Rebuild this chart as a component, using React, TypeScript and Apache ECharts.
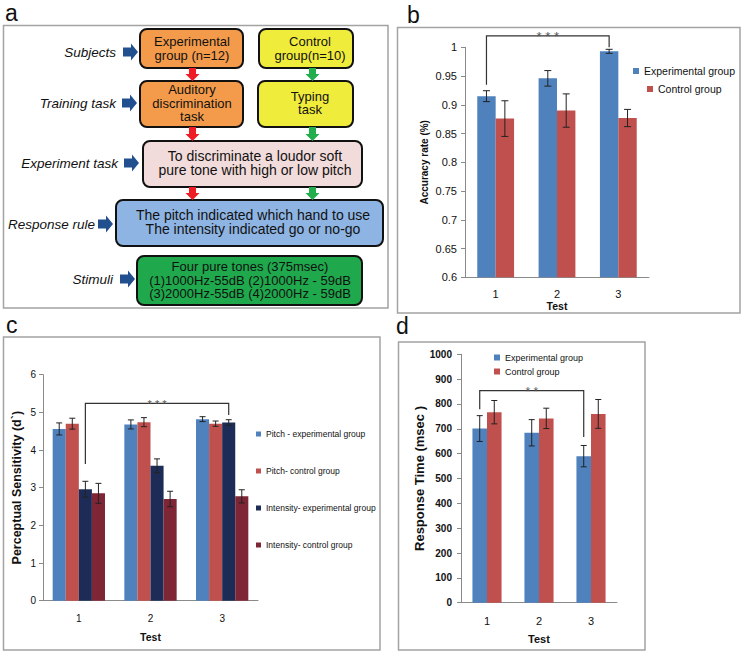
import React, { useEffect, useRef } from "react";
import * as echarts from "echarts";

// ---------- data ----------
const tests = ["1", "2", "3"];

// Panel b: accuracy rate
const accExp = [0.915, 0.946, 0.993];
const accExpErr = [0.0095, 0.0135, 0.0035];
const accCtrl = [0.876, 0.89, 0.877];
const accCtrlErr = [0.031, 0.029, 0.015];

// Panel c: perceptual sensitivity (d')
const pitchExp = [4.56, 4.68, 4.82];
const pitchExpErr = [0.16, 0.12, 0.065];
const pitchCtrl = [4.7, 4.74, 4.7];
const pitchCtrlErr = [0.145, 0.12, 0.07];
const intExp = [2.96, 3.58, 4.73];
const intExpErr = [0.21, 0.185, 0.075];
const intCtrl = [2.85, 2.7, 2.77];
const intCtrlErr = [0.265, 0.205, 0.175];

// Panel d: response time
const rtExp = [701, 684, 590];
const rtExpErr = [52, 53, 43];
const rtCtrl = [767, 742, 760];
const rtCtrlErr = [47, 41, 58];

// significance brackets: [leftCat, rightCat, yLeft, yTop, yRight]
const bracketB = [0, 2, 0.935, 1.02, 1.0];
const bracketC = [0, 2, 3.63, 5.24, 4.93];
const bracketD = [0, 2, 779, 854, 667];

const legendB = ["Experimental group", "Control group"];
const legendC = [
  "Pitch - experimental group",
  "Pitch- control group",
  "Intensity- experimental group",
  "Intensity- control group",
];

// ---------- styles ----------
const BLUE = "#4f81bd";
const RED = "#c0504d";
const NAVY = "#1d2c57";
const MAROON = "#7e2536";
const FONT = "'Liberation Sans', Arial, sans-serif";

function barSeries(name: string, data: number[], color: string, ai: number, gap: string) {
  return {
    type: "bar",
    name,
    data,
    xAxisIndex: ai,
    yAxisIndex: ai,
    barGap: "0%",
    barCategoryGap: gap,
    itemStyle: { color },
  };
}

function errSeries(values: number[], errs: number[], k: number, n: number, gap: number, ai: number, cap: number) {
  return {
    type: "custom",
    xAxisIndex: ai,
    yAxisIndex: ai,
    z: 5,
    silent: true,
    data: values.map((v, i) => [i, v - errs[i], v + errs[i]]),
    encode: { x: 0, y: [1, 2] },
    renderItem: (params: any, api: any) => {
      const i = api.value(0);
      const lo = api.coord([i, api.value(1)]);
      const hi = api.coord([i, api.value(2)]);
      const band = Math.abs(api.coord([1, api.value(1)])[0] - api.coord([0, api.value(1)])[0]);
      const gw = band * (1 - gap);
      const cx = lo[0] - gw / 2 + (gw / n) * (k + 0.5);
      const st = { stroke: "#222", lineWidth: 1 };
      return {
        type: "group",
        children: [
          { type: "line", shape: { x1: cx, y1: lo[1], x2: cx, y2: hi[1] }, style: st },
          { type: "line", shape: { x1: cx - cap, y1: lo[1], x2: cx + cap, y2: lo[1] }, style: st },
          { type: "line", shape: { x1: cx - cap, y1: hi[1], x2: cx + cap, y2: hi[1] }, style: st },
        ],
      };
    },
  };
}

function bracketSeries(b: number[], k: number, n: number, gap: number, ai: number, label: string, fs: number) {
  return {
    type: "custom",
    xAxisIndex: ai,
    yAxisIndex: ai,
    z: 6,
    silent: true,
    clip: false,
    data: [b],
    encode: { x: [0, 1], y: [2, 3, 4] },
    renderItem: (params: any, api: any) => {
      const pL = api.coord([api.value(0), api.value(2)]);
      const pT = api.coord([api.value(0), api.value(3)]);
      const pR = api.coord([api.value(1), api.value(4)]);
      const band = Math.abs(api.coord([1, api.value(2)])[0] - api.coord([0, api.value(2)])[0]);
      const gw = band * (1 - gap);
      const off = -gw / 2 + (gw / n) * (k + 0.5);
      const xl = pL[0] + off;
      const xr = pR[0] + off;
      return {
        type: "group",
        children: [
          {
            type: "polyline",
            shape: { points: [[xl, pL[1]], [xl, pT[1]], [xr, pT[1]], [xr, pR[1]]] },
            style: { stroke: "#333", lineWidth: 1.2, fill: "none" },
          },
          {
            type: "text",
            x: (xl + xr) / 2,
            y: pT[1] + 1,
            style: { text: label, align: "center", verticalAlign: "middle", fontSize: fs, fill: "#555", fontFamily: FONT },
          },
        ],
      };
    },
  };
}

// ---------- panel a (flowchart) ----------
function box(x: number, y: number, w: number, h: number, fill: string) {
  return { type: "rect", shape: { x, y, width: w, height: h, r: 7 }, style: { fill, stroke: "#111", lineWidth: 2 } };
}
function label(x: number, y: number, text: string, size: number, opts: any = {}) {
  return {
    type: "text",
    x,
    y,
    style: {
      text,
      align: opts.align || "center",
      verticalAlign: "middle",
      fontSize: size,
      fontFamily: FONT,
      fontStyle: opts.italic ? "italic" : "normal",
      lineHeight: opts.lh || size,
      fill: "#111",
    },
  };
}
function downArrow(cx: number, y0: number, y1: number, color: string) {
  return {
    type: "polygon",
    shape: {
      points: [
        [cx - 3.5, y0], [cx + 3.5, y0], [cx + 3.5, y1 - 7], [cx + 7, y1 - 7],
        [cx, y1], [cx - 7, y1 - 7], [cx - 3.5, y1 - 7],
      ],
    },
    style: { fill: color },
  };
}
function rightArrow(x0: number, cy: number) {
  const x1 = x0 + 15;
  return {
    type: "polygon",
    shape: {
      points: [
        [x0, cy - 4.5], [x1 - 7, cy - 4.5], [x1 - 7, cy - 8.5], [x1, cy],
        [x1 - 7, cy + 8.5], [x1 - 7, cy + 4.5], [x0, cy + 4.5],
      ],
    },
    style: { fill: "#22508f" },
  };
}
function frame(x: number, y: number, w: number, h: number) {
  return { type: "rect", shape: { x, y, width: w, height: h }, style: { fill: "none", stroke: "#a3a3a3", lineWidth: 1.5 } };
}
function panelLetter(x: number, y: number, t: string) {
  return { type: "text", x, y, style: { text: t, fontSize: 23, fontFamily: FONT, fill: "#111", verticalAlign: "top" } };
}

const flow: any[] = [
  frame(3.5, 25.5, 384.5, 282.5),
  frame(397.5, 27.5, 342.5, 285.5),
  frame(3.5, 337, 376.5, 313),
  frame(398.5, 342, 246.5, 308),
  panelLetter(5, 1, "a"),
  panelLetter(407, 3, "b"),
  panelLetter(6, 313, "c"),
  panelLetter(396, 314, "d"),
  box(140, 29, 103, 39, "#f39b4b"),
  box(259, 29, 94, 39, "#f0ec3c"),
  box(140, 81, 103, 46, "#f39b4b"),
  box(258, 81, 95, 46, "#f0ec3c"),
  box(143, 141, 219, 46, "#f2dcdb"),
  box(116, 200, 267, 46, "#8eb4e3"),
  box(137, 256, 225, 49, "#1fa84c"),
  label(192, 48.5, "Experimental\ngroup (n=12)", 13, { lh: 13.5 }),
  label(310, 48.5, "Control\ngroup(n=10)", 13, { lh: 13.5 }),
  label(192, 103, "Auditory\ndiscrimination\ntask", 13, { lh: 13.5 }),
  label(310, 103, "Typing\ntask", 13, { lh: 13.5 }),
  label(255, 163, "To discriminate a loudor soft\npure tone with high or low pitch", 14, { lh: 14.5 }),
  label(253, 222, "The pitch indicated which hand to use\nThe intensity indicated go or no-go", 14, { lh: 14.5 }),
  label(250, 280, "Four pure tones (375msec)\n(1)1000Hz-55dB (2)1000Hz - 59dB\n(3)2000Hz-55dB (4)2000Hz - 59dB", 13, { lh: 13.6 }),
  label(116, 52, "Subjects", 13.5, { italic: true, align: "right" }),
  label(116, 103, "Training task", 13.5, { italic: true, align: "right" }),
  label(118, 163, "Experiment task", 13.5, { italic: true, align: "right" }),
  label(95, 224, "Response rule", 13.5, { italic: true, align: "right" }),
  label(113, 279, "Stimuli", 13.5, { italic: true, align: "right" }),
  rightArrow(123, 52),
  rightArrow(122, 103),
  rightArrow(124, 163),
  rightArrow(98, 224),
  rightArrow(120, 279),
  downArrow(192.5, 68, 81, "#ee1c24"),
  downArrow(192.5, 127, 141, "#ee1c24"),
  downArrow(192.5, 187, 200, "#ee1c24"),
  downArrow(312.5, 68, 81, "#22ae4c"),
  downArrow(312.5, 127, 141, "#22ae4c"),
  downArrow(312.5, 187, 200, "#22ae4c"),
];

// ---------- axes ----------
const axisLine = { show: true, lineStyle: { color: "#8a8a8a", width: 1 } };

const option: any = {
  animation: false,
  textStyle: { fontFamily: FONT },
  graphic: { elements: flow },
  grid: [
    { left: 465, top: 47.3, width: 184, height: 230 },
    { left: 43, top: 374.7, width: 215, height: 226 },
    { left: 461, top: 354.3, width: 156, height: 248.4 },
  ],
  xAxis: [
    {
      gridIndex: 0, type: "category", data: tests, axisLine, axisTick: { show: false },
      axisLabel: { color: "#111", fontSize: 11, margin: 11 },
      name: "Test", nameLocation: "middle", nameGap: 21,
      nameTextStyle: { fontWeight: "bold", fontSize: 10.5, color: "#111" },
    },
    {
      gridIndex: 1, type: "category", data: tests, axisLine, axisTick: { show: false },
      axisLabel: { color: "#111", fontSize: 10, margin: 13 },
      name: "Test", nameLocation: "middle", nameGap: 31,
      nameTextStyle: { fontWeight: "bold", fontSize: 10.5, color: "#111" },
    },
    {
      gridIndex: 2, type: "category", data: tests, axisLine, axisTick: { show: false },
      axisLabel: { color: "#111", fontSize: 11, margin: 13 },
      name: "Test", nameLocation: "middle", nameGap: 31,
      nameTextStyle: { fontWeight: "bold", fontSize: 11, color: "#111" },
    },
  ],
  yAxis: [
    {
      gridIndex: 0, type: "value", min: 0.6, max: 1, interval: 0.05, splitLine: { show: false },
      axisLine, axisTick: { show: true, length: 4, lineStyle: { color: "#8a8a8a" } },
      axisLabel: { color: "#111", fontSize: 11, margin: 8, formatter: (v: number) => String(+v.toFixed(2)) },
      name: "Accuracy rate (%)", nameLocation: "middle", nameGap: 36,
      nameTextStyle: { fontWeight: "bold", fontSize: 10, color: "#111" },
    },
    {
      gridIndex: 1, type: "value", min: 0, max: 6, interval: 1, splitLine: { show: false },
      axisLine, axisTick: { show: true, length: 4, lineStyle: { color: "#8a8a8a" } },
      axisLabel: { color: "#111", fontSize: 10, margin: 7 },
      name: "Perceptual Sensitivity (d`)", nameLocation: "middle", nameGap: 20,
      nameTextStyle: { fontWeight: "bold", fontSize: 12.5, color: "#111" },
    },
    {
      gridIndex: 2, type: "value", min: 0, max: 1000, interval: 100, splitLine: { show: false },
      axisLine, axisTick: { show: true, length: 4, lineStyle: { color: "#8a8a8a" } },
      axisLabel: { color: "#111", fontSize: 10, margin: 9, fontWeight: "bold", formatter: (v: number) => String(v) },
      name: "Response Time (msec )", nameLocation: "middle", nameGap: 31,
      nameTextStyle: { fontWeight: "bold", fontSize: 13, color: "#111" },
    },
  ],
  legend: [
    {
      data: [legendB[0]], left: 633, top: 65.5, padding: 0, icon: "rect", itemWidth: 6, itemHeight: 6,
      textStyle: { fontSize: 10.5, color: "#111" },
    },
    {
      data: [legendB[1]], left: 647, top: 83.5, padding: 0, icon: "rect", itemWidth: 6, itemHeight: 6,
      textStyle: { fontSize: 10.5, color: "#111" },
    },
    {
      data: legendC, orient: "vertical", left: 256, top: 429.5, padding: 0, itemGap: 28, icon: "rect",
      itemWidth: 5, itemHeight: 5, textStyle: { fontSize: 8.5, color: "#111" },
    },
    {
      data: legendB, orient: "vertical", left: 494, top: 353, padding: 0, itemGap: 5, icon: "rect",
      itemWidth: 6, itemHeight: 6, textStyle: { fontSize: 9, color: "#111" },
    },
  ],
  series: [
    barSeries(legendB[0], accExp, BLUE, 0, "40%"),
    barSeries(legendB[1], accCtrl, RED, 0, "40%"),
    errSeries(accExp, accExpErr, 0, 2, 0.4, 0, 3.5),
    errSeries(accCtrl, accCtrlErr, 1, 2, 0.4, 0, 3.5),
    bracketSeries(bracketB, 0, 2, 0.4, 0, "* * *", 13),

    barSeries(legendC[0], pitchExp, BLUE, 1, "27%"),
    barSeries(legendC[1], pitchCtrl, RED, 1, "27%"),
    barSeries(legendC[2], intExp, NAVY, 1, "27%"),
    barSeries(legendC[3], intCtrl, MAROON, 1, "27%"),
    errSeries(pitchExp, pitchExpErr, 0, 4, 0.27, 1, 3),
    errSeries(pitchCtrl, pitchCtrlErr, 1, 4, 0.27, 1, 3),
    errSeries(intExp, intExpErr, 2, 4, 0.27, 1, 3),
    errSeries(intCtrl, intCtrlErr, 3, 4, 0.27, 1, 3),
    bracketSeries(bracketC, 2, 4, 0.27, 1, "* * *", 11),

    barSeries(legendB[0], rtExp, BLUE, 2, "44%"),
    barSeries(legendB[1], rtCtrl, RED, 2, "44%"),
    errSeries(rtExp, rtExpErr, 0, 2, 0.44, 2, 3),
    errSeries(rtCtrl, rtCtrlErr, 1, 2, 0.44, 2, 3),
    bracketSeries(bracketD, 0, 2, 0.44, 2, "* *", 12),
  ],
};

export default function App() {
  const ref = useRef<HTMLDivElement>(null);
  useEffect(() => {
    const chart = echarts.init(ref.current!, null, { renderer: "svg" });
    chart.setOption(option);
    return () => chart.dispose();
  }, []);
  return (
    <div
      ref={ref}
      style={{ position: "fixed", left: 0, top: 0, width: 744, height: 654, background: "#fff" }}
    />
  );
}
